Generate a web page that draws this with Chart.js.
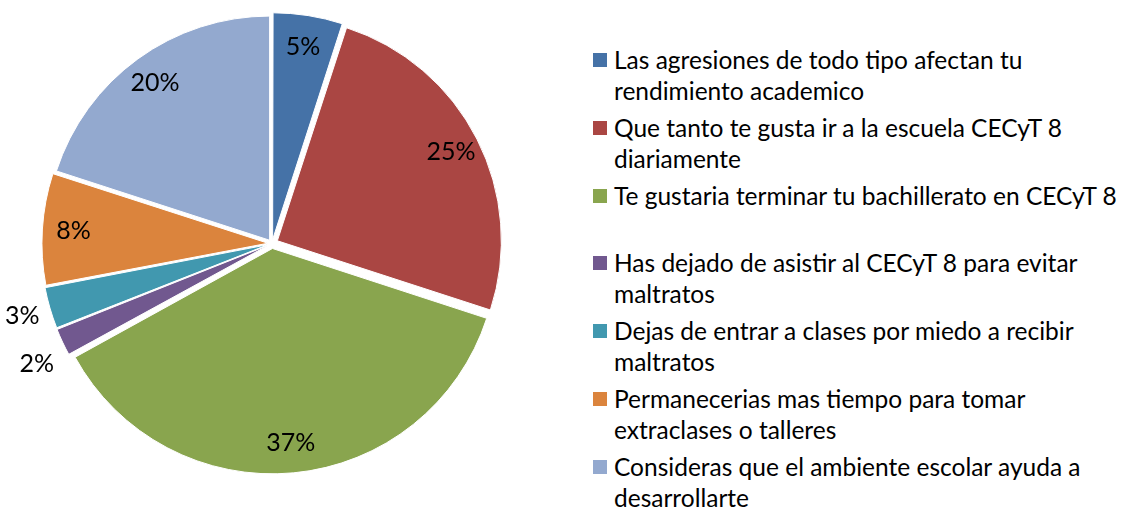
<!DOCTYPE html>
<html>
<head>
<meta charset="utf-8">
<script src="https://cdn.jsdelivr.net/npm/chart.js@4.4.1/dist/chart.umd.min.js"></script>
<style>
    body { margin: 0; background: #fff; width: 1125px; height: 508px; overflow: hidden; font-family: Lato, "Open Sans", sans-serif; }
    #pie-box { position: absolute; left: 0; top: 0; width: 544px; height: 487px; }
    #legend { position: absolute; left: 593px; top: 44px; margin: 0; padding: 0; list-style: none; }
    #legend li { position: relative; height: 67.8px; padding-left: 21px; font-size: 24.5px; line-height: 31px; color: #000; white-space: nowrap; }
    #legend .box { position: absolute; left: 0; top: 9px; width: 14px; height: 14px; }
</style>
</head>
<body>
<div id="pie-box"><canvas id="pie-chart"></canvas></div>
<ul id="legend"></ul>
<script>
// Categories (legend lines as wrapped in the original)
const categories = [
    ['Las agresiones de todo tipo afectan tu', 'rendimiento academico'],
    ['Que tanto te gusta ir a la escuela CECyT 8', 'diariamente'],
    ['Te gustaria terminar tu bachillerato en CECyT 8'],
    ['Has dejado de asistir al CECyT 8 para evitar', 'maltratos'],
    ['Dejas de entrar a clases por miedo a recibir', 'maltratos'],
    ['Permanecerias mas tiempo para tomar', 'extraclases o talleres'],
    ['Consideras que el ambiente escolar ayuda a', 'desarrollarte']
];

// Percentages per slice
const percentages = [5, 25, 37, 2, 3, 8, 20];

const sliceColors = ['#4572A7', '#AA4643', '#89A54E', '#71588F', '#4198AF', '#DB843D', '#93A9CF'];

// Chart.js draws arcs shifted by offset / 4
const sliceOffsets = [16, 24, 20, 16, 16, 16, 16];

// Percent labels inside the slices, small ones outside
const percentLabels = {
    id: 'percentLabels',
    afterDatasetsDraw(chart) {
        const ctx = chart.ctx;
        const meta = chart.getDatasetMeta(0);
        const outside = [];
        ctx.save();
        ctx.font = '25px Lato, "Open Sans", sans-serif';
        ctx.fillStyle = '#000';
        ctx.textAlign = 'center';
        ctx.textBaseline = 'middle';
        meta.data.forEach((arc, i) => {
            const { x, y, startAngle, endAngle, outerRadius } = arc.getProps(['x', 'y', 'startAngle', 'endAngle', 'outerRadius'], true);
            const mid = (startAngle + endAngle) / 2;
            const value = percentages[i];
            const text = value + '%';
            if (value < 4) {
                const r = outerRadius + 36;
                outside.push({ text, x: x + Math.cos(mid) * r, y: y + Math.sin(mid) * r });
            } else {
                const r = outerRadius * 0.87 + sliceOffsets[i] / 4;
                ctx.fillText(text, x + Math.cos(mid) * r, y + Math.sin(mid) * r);
            }
        });
        // keep the small outside labels from crowding each other
        outside.sort((a, b) => a.y - b.y);
        for (let k = outside.length - 2; k >= 0; k--) {
            if (outside[k + 1].y - outside[k].y < 48) {
                outside[k + 1].y = outside[k].y + 48;
            }
        }
        outside.forEach(l => ctx.fillText(l.text, l.x, l.y));
        ctx.restore();
    }
};

function drawChart() {
    new Chart(document.getElementById('pie-chart'), {
        type: 'pie',
        data: {
            labels: categories,
            datasets: [{
                data: percentages,
                backgroundColor: sliceColors,
                borderColor: '#fff',
                borderWidth: 1,
                offset: sliceOffsets
            }]
        },
        options: {
            responsive: true,
            maintainAspectRatio: false,
            animation: false,
            radius: 224,
            layout: { padding: 0 },
            plugins: {
                legend: { display: false },
                tooltip: { enabled: false }
            }
        },
        plugins: [percentLabels]
    });
}

// Legend built from the same arrays
const legend = document.getElementById('legend');
categories.forEach((lines, i) => {
    const li = document.createElement('li');
    const box = document.createElement('span');
    box.className = 'box';
    box.style.backgroundColor = sliceColors[i];
    li.appendChild(box);
    li.insertAdjacentHTML('beforeend', lines.join('<br>'));
    legend.appendChild(li);
});

// wait for Lato so the canvas labels use it
document.fonts.load('25px Lato').then(drawChart, drawChart);
</script>
</body>
</html>
